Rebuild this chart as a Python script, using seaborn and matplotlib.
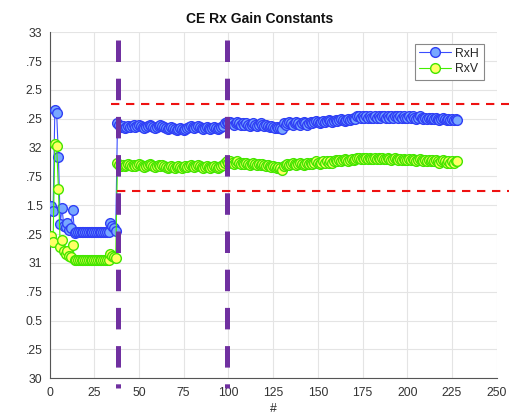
import numpy as np
import pandas as pd
import matplotlib
matplotlib.use("Agg")
import matplotlib.pyplot as plt
from matplotlib.lines import Line2D
import seaborn as sns

# ---- data -------------------------------------------------------------
rxh_start = [31.49, 31.45, 32.33, 32.30, 31.92, 31.34, 31.48, 31.32, 31.31, 31.35,
             31.29, 31.30, 31.46, 31.26, 31.27, 31.27, 31.27, 31.27, 31.27, 31.27,
             31.27, 31.27, 31.27, 31.27, 31.27, 31.27, 31.27, 31.27, 31.27, 31.27,
             31.27, 31.27, 31.27, 31.35, 31.32, 31.30, 31.28]
rxv_start = [31.23, 31.18, 32.03, 32.01, 31.64, 31.14, 31.20, 31.10, 31.08, 31.10,
             31.06, 31.05, 31.16, 31.03, 31.025, 31.025, 31.025, 31.025, 31.025, 31.025,
             31.025, 31.025, 31.025, 31.025, 31.025, 31.025, 31.025, 31.025, 31.025, 31.025,
             31.025, 31.025, 31.025, 31.08, 31.06, 31.05, 31.04]

rxh_run = [
    32.21, 32.20, 32.18, 32.19, 32.17, 32.18, 32.19, 32.18, 32.19, 32.20,
    32.18, 32.19, 32.20, 32.19, 32.18, 32.17, 32.18, 32.19, 32.20, 32.19,
    32.18, 32.17, 32.18, 32.19, 32.20,
    32.19, 32.18, 32.17, 32.16, 32.17, 32.18, 32.17, 32.16, 32.15, 32.16,
    32.17, 32.16, 32.15, 32.16, 32.17,
    32.18, 32.19, 32.18, 32.17, 32.18, 32.19, 32.18, 32.17, 32.16, 32.17,
    32.18, 32.17, 32.16, 32.17, 32.18, 32.17, 32.16, 32.17, 32.18, 32.19,
    32.21, 32.22,
    32.21, 32.22, 32.21, 32.20, 32.21, 32.22, 32.21, 32.20, 32.21, 32.20,
    32.21, 32.20, 32.19, 32.20, 32.21, 32.20, 32.19, 32.20, 32.21, 32.20,
    32.19, 32.20, 32.19, 32.18, 32.19, 32.18, 32.17, 32.18, 32.17, 32.17,
    32.16,
    32.21, 32.20, 32.21, 32.22, 32.21, 32.20, 32.21, 32.22, 32.21, 32.20,
    32.21, 32.22, 32.21, 32.20, 32.21, 32.22, 32.21, 32.22, 32.23, 32.22,
    32.21, 32.22, 32.23, 32.22, 32.23, 32.24, 32.23, 32.22, 32.23, 32.24,
    32.23, 32.24, 32.25, 32.24, 32.23, 32.24, 32.25, 32.24, 32.25, 32.26,
    32.25,
    32.27, 32.27, 32.26, 32.27, 32.26, 32.27, 32.26, 32.27, 32.26, 32.26,
    32.27, 32.26, 32.27, 32.26, 32.27, 32.27, 32.26, 32.27, 32.26, 32.27,
    32.26, 32.27, 32.27, 32.26, 32.27, 32.26, 32.27, 32.26, 32.26, 32.27,
    32.26, 32.27, 32.26, 32.25, 32.26, 32.27, 32.26, 32.25, 32.26, 32.25,
    32.26, 32.25, 32.26, 32.25, 32.26, 32.25, 32.24, 32.25, 32.26, 32.25,
    32.24, 32.25, 32.24, 32.25, 32.24, 32.25, 32.24,
]
rxv_run = [
    31.87, 31.85, 31.84, 31.85, 31.84, 31.85, 31.86, 31.85, 31.84, 31.85,
    31.84, 31.85, 31.86, 31.85, 31.84, 31.83, 31.84, 31.85, 31.86, 31.85,
    31.84, 31.83, 31.84, 31.85, 31.84,
    31.85, 31.84, 31.83, 31.82, 31.83, 31.84, 31.83, 31.82, 31.83, 31.84,
    31.83, 31.82, 31.83, 31.84, 31.83,
    31.84, 31.85, 31.84, 31.83, 31.84, 31.85, 31.84, 31.83, 31.82, 31.83,
    31.84, 31.83, 31.82, 31.83, 31.84, 31.83, 31.82, 31.83, 31.84, 31.85,
    31.87, 31.88,
    31.87, 31.88, 31.87, 31.86, 31.87, 31.88, 31.87, 31.86, 31.87, 31.86,
    31.87, 31.86, 31.85, 31.86, 31.87, 31.86, 31.85, 31.86, 31.85, 31.86,
    31.85, 31.84, 31.85, 31.84, 31.83, 31.84, 31.83, 31.82, 31.83, 31.82,
    31.81,
    31.84, 31.85, 31.86, 31.85, 31.86, 31.87, 31.86, 31.85, 31.86, 31.87,
    31.86, 31.85, 31.86, 31.87, 31.86, 31.87, 31.86, 31.87, 31.88, 31.87,
    31.86, 31.87, 31.88, 31.87, 31.88, 31.87, 31.88, 31.87, 31.88, 31.89,
    31.88, 31.89, 31.88, 31.89, 31.90, 31.89, 31.88, 31.89, 31.90, 31.89,
    31.90,
    31.91, 31.91, 31.90, 31.91, 31.90, 31.91, 31.90, 31.91, 31.90, 31.90,
    31.91, 31.90, 31.91, 31.90, 31.91, 31.90, 31.90, 31.91, 31.90, 31.89,
    31.90, 31.91, 31.90, 31.89, 31.90, 31.89, 31.90, 31.89, 31.89, 31.90,
    31.89, 31.90, 31.89, 31.88, 31.89, 31.90, 31.89, 31.88, 31.89, 31.88,
    31.89, 31.88, 31.89, 31.88, 31.89, 31.88, 31.87, 31.88, 31.89, 31.88,
    31.87, 31.88, 31.87, 31.88, 31.87, 31.88, 31.88,
]

rxh = rxh_start + rxh_run
rxv = rxv_start + rxv_run
sample = list(range(1, len(rxh) + 1))

# reference markers
boundary_x = [38.3, 99.3]
limit_hi = 32.38
limit_lo = 31.625

x_ticks = [0, 25, 50, 75, 100, 125, 150, 175, 200, 225, 250]
y_ticks = [30, 30.25, 30.5, 30.75, 31, 31.25, 31.5, 31.75, 32, 32.25, 32.5, 32.75, 33]
y_tick_labels = ["30", ".25", "0.5", ".75", "31", ".25", "1.5", ".75", "32", ".25", "2.5", ".75", "33"]

df = pd.DataFrame({"sample": sample, "RxH": rxh, "RxV": rxv})

# ---- style ------------------------------------------------------------
sns.set_style("white")
plt.rcParams["font.family"] = ["Liberation Sans", "DejaVu Sans"]

W, H = 509, 416
fig = plt.figure(figsize=(W / 100, H / 100), dpi=100)
ax = fig.add_axes([49.5 / W, 1 - 378.3 / H, (496.7 - 49.5) / W, (378.3 - 32.3) / H])

dark = "#262626"
h_edge, h_face, h_line = "#2f3ff5", "#78a8ff", "#3a4dff"
v_edge, v_face, v_line = "#44e600", "#ffff66", "#44ee00"
msize = 7.0

sns.lineplot(data=df, x="sample", y="RxH", ax=ax, sort=False, estimator=None,
             color=h_line, lw=0.8, marker="o", markersize=msize,
             markerfacecolor=h_face, markeredgecolor=h_edge, markeredgewidth=1.0,
             zorder=3)
sns.lineplot(data=df, x="sample", y="RxV", ax=ax, sort=False, estimator=None,
             color=v_line, lw=0.8, marker="o", markersize=msize,
             markerfacecolor=v_face, markeredgecolor=v_edge, markeredgewidth=1.0,
             zorder=3)

# limit lines (run past the right edge)
ax.plot([34.4, 258], [limit_hi, limit_hi], color="#ee1111", lw=1.5,
        dashes=(4, 3.2), clip_on=False, zorder=4)
ax.plot([37.6, 258], [limit_lo, limit_lo], color="#ee1111", lw=1.5,
        dashes=(4, 3.2), clip_on=False, zorder=4)

# phase boundaries
for bx in boundary_x:
    ax.plot([bx, bx], [32.933, 29.916], color="#7030a0", lw=3.6,
            dashes=(4.3, 3.34), solid_capstyle="butt", dash_capstyle="butt",
            clip_on=False, zorder=5)

ax.set_xlim(0, 250)
ax.set_ylim(30, 33)
ax.set_xticks(x_ticks)
ax.set_xticklabels([str(t) for t in x_ticks])
ax.set_yticks(y_ticks)
ax.set_yticklabels(y_tick_labels)
ax.grid(True, color="#e4e4e4", lw=0.8, zorder=0)
ax.set_axisbelow(True)

for side in ["top", "right"]:
    ax.spines[side].set_visible(False)
for side in ["left", "bottom"]:
    ax.spines[side].set_color("#555555")
    ax.spines[side].set_linewidth(0.8)

ax.tick_params(axis="both", direction="in", length=3, width=0.8, color="#555555",
               labelsize=8.8, labelcolor="#333333")
ax.tick_params(axis="x", pad=6.5)
ax.tick_params(axis="y", pad=5)

ax.set_xlabel("#", fontsize=8.8, color=dark, labelpad=3)
ax.set_ylabel("")
fig.text(260 / W, 1 - 19 / H, "CE Rx Gain Constants", ha="center", va="center",
         fontsize=10, fontweight="bold", color="#111111")

handles = [
    Line2D([], [], color=h_line, lw=0.8, marker="o", markersize=msize,
           markerfacecolor=h_face, markeredgecolor=h_edge),
    Line2D([], [], color=v_line, lw=0.8, marker="o", markersize=msize,
           markerfacecolor=v_face, markeredgecolor=v_edge),
]
leg = ax.legend(handles, ["RxH", "RxV"], loc="upper right",
                bbox_to_anchor=(483.5 / W, 1 - 43.5 / H), bbox_transform=fig.transFigure,
                fontsize=8.8, frameon=True, fancybox=False, framealpha=1,
                edgecolor="#888888", handlelength=2.6, handletextpad=0.4,
                borderpad=0.35, labelspacing=0.3, borderaxespad=0)
leg.get_frame().set_linewidth(0.8)
for t in leg.get_texts():
    t.set_color(dark)

fig.savefig("out.png", dpi=100)
